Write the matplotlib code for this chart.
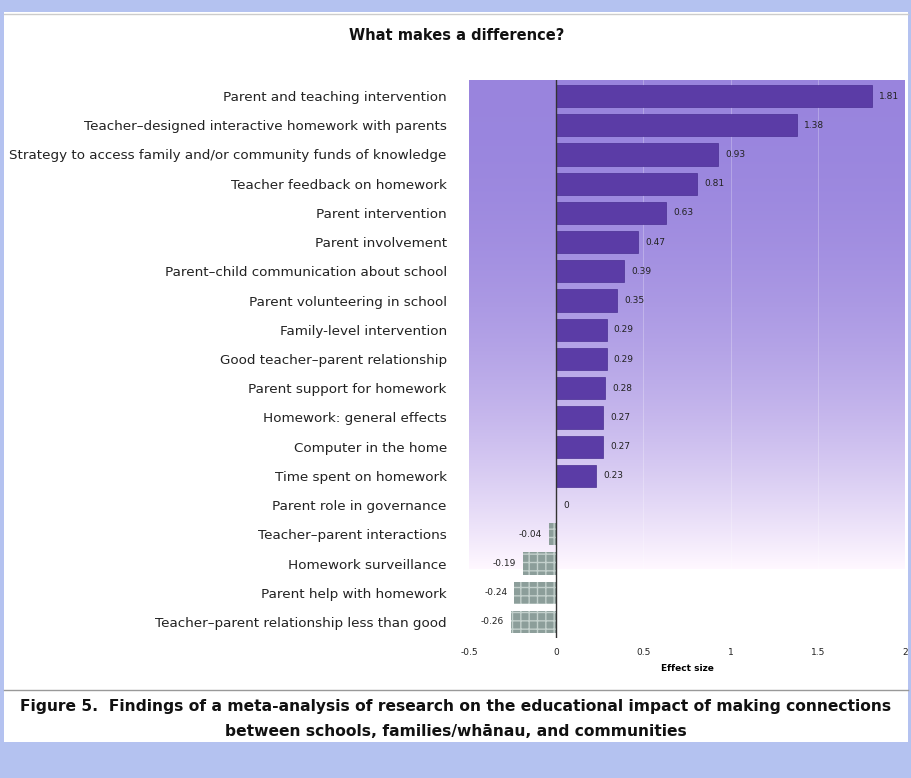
import numpy as np
import matplotlib
matplotlib.use('Agg')
import matplotlib.pyplot as plt
from matplotlib.patches import Rectangle

# data
labels = [
    'Parent and teaching intervention',
    'Teacher\u2013designed interactive homework with parents',
    'Strategy to access family and/or community funds of knowledge',
    'Teacher feedback on homework',
    'Parent intervention',
    'Parent involvement',
    'Parent\u2013child communication about school',
    'Parent volunteering in school',
    'Family-level intervention',
    'Good teacher\u2013parent relationship',
    'Parent support for homework',
    'Homework: general effects',
    'Computer in the home',
    'Time spent on homework',
    'Parent role in governance',
    'Teacher\u2013parent interactions',
    'Homework surveillance',
    'Parent help with homework',
    'Teacher\u2013parent relationship less than good',
]
effects = [1.81, 1.38, 0.93, 0.81, 0.63, 0.47, 0.39, 0.35, 0.29, 0.29,
           0.28, 0.27, 0.27, 0.23, 0, -0.04, -0.19, -0.24, -0.26]
value_text = ['1.81', '1.38', '0.93', '0.81', '0.63', '0.47', '0.39', '0.35', '0.29', '0.29',
              '0.28', '0.27', '0.27', '0.23', '0', '-0.04', '-0.19', '-0.24', '-0.26']
xticks = [-0.5, 0, 0.5, 1, 1.5, 2]
xticklabels = ['-0.5', '0', '0.5', '1', '1.5', '2']

plt.rcParams['font.family'] = ['DejaVu Sans']

fig = plt.figure(figsize=(9.12, 7.78), dpi=100)
fig.patch.set_facecolor('#b4c2f0')

# white panel and caption area
fig.patches.append(Rectangle((4/912, 1 - 742/778), 904/912, 730/778,
                             transform=fig.transFigure, facecolor='white',
                             edgecolor='none', zorder=-5))
fig.lines.append(plt.Line2D([4/912, 908/912], [1 - 690/778, 1 - 690/778],
                            transform=fig.transFigure, color='#999999', lw=1, zorder=-4))
fig.lines.append(plt.Line2D([4/912, 908/912], [1 - 14/778, 1 - 14/778],
                            transform=fig.transFigure, color='#cccccc', lw=1, zorder=-4))

ax = fig.add_axes([469/912, 1 - 638/778, 436/912, 558/778])
ax.set_facecolor('none')

n = len(labels)
ypos = np.arange(n)

# purple background fading to white
top = np.array([0.60, 0.52, 0.87])
t = np.linspace(0, 1, 200)[:, None]
fade = t ** 2.2
grad = top[None, :] * (1 - fade) + np.array([1.0, 0.97, 1.0])[None, :] * fade
grad = np.repeat(grad[:, None, :], 2, axis=1)
ax.imshow(grad, extent=[-0.5, 2, 16.2, -0.55], aspect='auto', zorder=0,
          interpolation='bilinear')
for gx in [0.5, 1, 1.5]:
    ax.axvline(gx, color='white', lw=0.6, alpha=0.3, zorder=1)

for i, v in enumerate(effects):
    if v >= 0:
        ax.barh(i, v, height=0.76, color='#5b3ca6', edgecolor='#4a2f92',
                lw=0.5, zorder=2)
    else:
        ax.barh(i, v, height=0.76, color='#8c9e9a', edgecolor='#c3d0cc',
                hatch='++', lw=0, zorder=2)
    if v > 0:
        ax.text(v + 0.04, i, value_text[i], va='center', ha='left',
                fontsize=6.5, color='#222222', zorder=3)
    elif v == 0:
        ax.text(0.04, i, value_text[i], va='center', ha='left',
                fontsize=6.5, color='#222222', zorder=3)
    else:
        ax.text(v - 0.04, i, value_text[i], va='center', ha='right',
                fontsize=6.5, color='#222222', zorder=3)

ax.axvline(0, color='#333333', lw=1.0, zorder=3)

ax.set_xlim(-0.5, 2)
ax.set_ylim(n - 0.45, -0.55)
ax.set_yticks(ypos)
ax.set_yticklabels(labels, fontsize=9.7, color='#222222')
ax.set_xticks(xticks)
ax.set_xticklabels(xticklabels, fontsize=6.5, color='#222222')
ax.tick_params(axis='both', length=0)
ax.tick_params(axis='y', pad=16)
ax.tick_params(axis='x', pad=7)
for s in ax.spines.values():
    s.set_visible(False)
ax.set_xlabel('Effect size', fontsize=6.5, fontweight='bold', labelpad=5)

fig.text(457/912, 1 - 35/778, 'What makes a difference?', ha='center', va='center',
         fontsize=10.5, fontweight='bold', color='#111111')

fig.text(456/912, 1 - 707/778,
         'Figure 5.  Findings of a meta-analysis of research on the educational impact of making connections',
         ha='center', va='center', fontsize=11.2, fontweight='bold', color='#111111')
fig.text(456/912, 1 - 731/778,
         'between schools, families/wh\u0101nau, and communities',
         ha='center', va='center', fontsize=11.2, fontweight='bold', color='#111111')

fig.savefig('out.png', dpi=100, facecolor=fig.get_facecolor())
